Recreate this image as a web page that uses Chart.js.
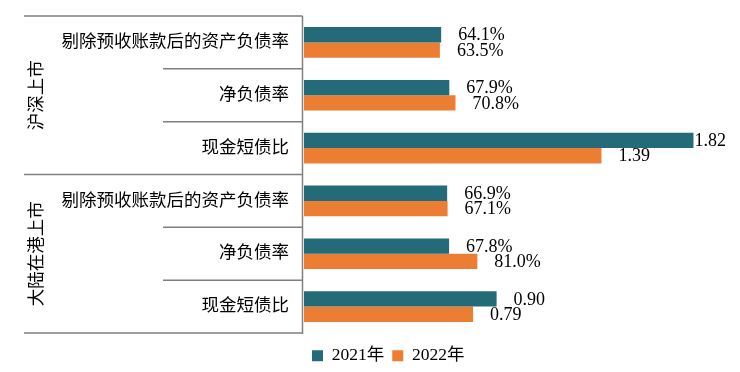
<!DOCTYPE html>
<html>
<head>
<meta charset="utf-8">
<script src="https://cdn.jsdelivr.net/npm/chart.js@4"></script>
<style>
  html, body { margin: 0; padding: 0; background: #fff; }
  #wrap { width: 740px; height: 372px; }
</style>
</head>
<body>
<div id="wrap"><canvas id="chart-debt"></canvas></div>
<script>
// ── dati ──
const gruppi     = ['沪深上市', '大陆在港上市'];
const categorie  = ['剔除预收账款后的资产负债率', '净负债率', '现金短债比',
                    '剔除预收账款后的资产负债率', '净负债率', '现金短债比'];
const formati    = ['pct', 'pct', 'ratio', 'pct', 'pct', 'ratio'];
const serie      = ['2021年', '2022年'];
const valori2021 = [0.641, 0.679, 1.82, 0.669, 0.678, 0.90];
const valori2022 = [0.635, 0.708, 1.39, 0.671, 0.810, 0.79];

const COL_2021 = '#256A79';
const COL_2022 = '#EC7E33';
const FONT_NUM = '"Liberation Serif", "Times New Roman", serif';
const FONT_CJK = '"Liberation Serif", "Noto Sans CJK SC", serif';

function fmt(v, tipo) {
  return tipo === 'pct' ? (v * 100).toFixed(1) + '%' : v.toFixed(2);
}

// tabella a sinistra + etichette categoria / gruppo + valori
const tabellaPlugin = {
  id: 'tabella',
  afterDraw(chart) {
    const { ctx, chartArea, scales: { y } } = chart;
    const xR = chartArea.left - 1.5, xL = 24, xMid = 163;
    const half = (y.getPixelForValue(1) - y.getPixelForValue(0)) / 2;
    ctx.save();
    ctx.strokeStyle = '#7f7f7f';
    ctx.lineWidth = 1.5;
    const line = (x1, y1, x2, y2) => { ctx.beginPath(); ctx.moveTo(x1, y1); ctx.lineTo(x2, y2); ctx.stroke(); };
    line(xR, chartArea.top, xR, chartArea.bottom + 1);
    categorie.forEach((c, i) => {
      const yc = y.getPixelForValue(i);
      const top = yc - half;
      line(i % 3 === 0 ? xL : xMid, top, xR, top);
      if (i === categorie.length - 1) line(xL, yc + half, xR, yc + half);
      ctx.fillStyle = '#000';
      ctx.font = '17.5px ' + FONT_CJK;
      ctx.textAlign = 'right';
      ctx.textBaseline = 'middle';
      ctx.fillText(c, 289, yc);
    });
    gruppi.forEach((g, gi) => {
      const y0 = y.getPixelForValue(gi * 3) - half;
      const y1 = y.getPixelForValue(gi * 3 + 2) + half;
      ctx.save();
      ctx.translate(37, (y0 + y1) / 2);
      ctx.rotate(-Math.PI / 2);
      ctx.font = '17.5px ' + FONT_CJK;
      ctx.textAlign = 'center';
      ctx.textBaseline = 'middle';
      ctx.fillText(g, 0, 0);
      ctx.restore();
    });

    ctx.font = '18px ' + FONT_NUM;
    ctx.textAlign = 'left';
    ctx.textBaseline = 'middle';
    ctx.fillStyle = '#000';
    chart.data.datasets.forEach((ds, di) => {
      chart.getDatasetMeta(di).data.forEach((bar, i) => {
        const txt = fmt(ds.data[i], formati[i]);
        const w = ctx.measureText(txt).width;
        let x = bar.x + 17;
        if (x + w > chart.width - 2) x = bar.x + 1;
        ctx.fillText(txt, x, bar.y + 1);
      });
    });
    ctx.restore();
  }
};

new Chart(document.getElementById('chart-debt'), {
  type: 'bar',
  data: {
    labels: categorie,
    datasets: [
      { label: serie[0], data: valori2021, backgroundColor: COL_2021 },
      { label: serie[1], data: valori2022, backgroundColor: COL_2022 }
    ]
  },
  options: {
    indexAxis: 'y',
    responsive: true,
    maintainAspectRatio: false,
    animation: false,
    layout: { padding: { left: 304, right: 8, top: 16, bottom: -2.5 } },
    datasets: { bar: { categoryPercentage: 0.58, barPercentage: 1.0 } },
    scales: {
      // asse x invisibile, serve solo a staccare la legenda dal grafico
      x: { display: true, min: 0, max: 2,
           ticks: { display: false }, grid: { display: false }, border: { display: false },
           afterFit(s) { s.height = 6; } },
      y: { display: false }
    },
    plugins: {
      tooltip: { enabled: false },
      legend: {
        position: 'bottom',
        align: 'start',
        labels: { boxWidth: 11, boxHeight: 11, padding: 8, color: '#000',
                  font: { size: 17.5, family: FONT_CJK } }
      }
    }
  },
  plugins: [tabellaPlugin]
});
</script>
</body>
</html>
